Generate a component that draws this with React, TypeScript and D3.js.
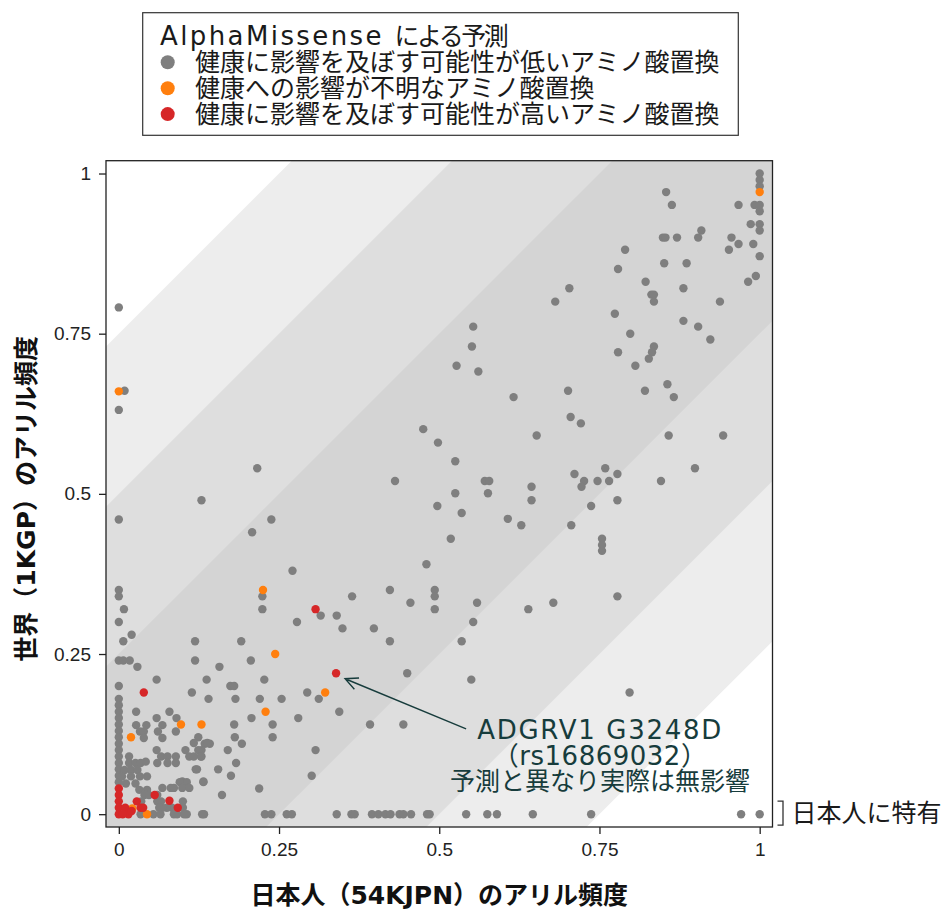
import React, { useEffect, useRef } from "react";
import * as d3 from "d3";

type Pt = [number, number];

// [日本人(54KJPN) frequency, 世界(1KGP) frequency]
const benignHigh: Pt[] = [
  [1, 1], [1, 0.99], [1, 0.98], [0.854, 0.971], [0.863, 0.951], [0.967, 0.951], [0.992, 0.951], [1, 0.951],
  [1, 0.941], [0.986, 0.921], [1, 0.921], [1, 0.911], [0.909, 0.911], [0.904, 0.9], [0.849, 0.9], [0.853, 0.9],
  [0.871, 0.9], [0.956, 0.9], [0.967, 0.89], [0.99, 0.89], [0.952, 0.881], [0.79, 0.881], [1, 0.871],
  [0.851, 0.86], [0.886, 0.86], [0.779, 0.851], [0.994, 0.84], [0.982, 0.831], [0.703, 0.821], [0.822, 0.831],
  [0.881, 0.821], [0.681, 0.8], [0.831, 0.811], [0.835, 0.811], [0.835, 0.8], [0.938, 0.8], [0.774, 0.781],
  [0.553, 0.761], [0.881, 0.77], [0.904, 0.761], [0.798, 0.75], [0.923, 0.741], [0.551, 0.73], [0.835, 0.73],
  [0.832, 0.721], [0.827, 0.711], [0.779, 0.721], [0.527, 0.7], [0.561, 0.691], [0.806, 0.7], [0.616, 0.651],
  [0.701, 0.661], [0.821, 0.661], [0.856, 0.671], [0.866, 0.651], [0.705, 0.62], [0.721, 0.61], [0.498, 0.58],
  [0.652, 0.591], [0.858, 0.591], [0.943, 0.591], [0.525, 0.551], [0.759, 0.54], [0.899, 0.54], [0.711, 0.531],
  [0.726, 0.52], [0.722, 0.511], [0.747, 0.52], [0.765, 0.52], [0.778, 0.531], [0.846, 0.52], [0.571, 0.52],
  [0.578, 0.52], [0.525, 0.501], [0.576, 0.501], [0.644, 0.511], [0.644, 0.49], [0.497, 0.481], [0.535, 0.47],
  [0.737, 0.481], [0.778, 0.49], [0.607, 0.461], [0.628, 0.451], [0.706, 0.451], [0.518, 0.43], [0.754, 0.43],
  [0.754, 0.42], [0.754, 0.411], [0.48, 0.39], [0.493, 0.35], [0.493, 0.34], [0.493, 0.32], [0.559, 0.33],
  [0.553, 0.3], [0.639, 0.32], [0.678, 0.33], [0.778, 0.34], [0.535, 0.27], [0.55, 0.21], [0.797, 0.19],
  [0.475, 0.601],
];

const benignMid: Pt[] = [
  [0.431, 0.52], [0.129, 0.49], [0.238, 0.46], [0.208, 0.44], [0.271, 0.38], [0.224, 0.34], [0.224, 0.32],
  [0.423, 0.35], [0.364, 0.34], [0.455, 0.33], [0.315, 0.31], [0.34, 0.31], [0.278, 0.3], [0.349, 0.29],
  [0.398, 0.29], [0.423, 0.27], [0.45, 0.22], [0.294, 0.19], [0.312, 0.18], [0.344, 0.16], [0.28, 0.15],
  [0.392, 0.14], [0.444, 0.14], [0.307, 0.1], [0.301, 0.06], [0.219, 0.04], [0.216, 0.54],
  [0.119, 0.27], [0.191, 0.27], [0.119, 0.24], [0.206, 0.24], [0.157, 0.23], [0.137, 0.21], [0.227, 0.21],
  [0.114, 0.19], [0.174, 0.2], [0.18, 0.2], [0.182, 0.18], [0.14, 0.18], [0.22, 0.18], [0.254, 0.18],
  [0.207, 0.15], [0.18, 0.14], [0.24, 0.14], [0.181, 0.12], [0.192, 0.11], [0.24, 0.12], [0.17, 0.1],
  [0.183, 0.08], [0.155, 0.07], [0.175, 0.06], [0.132, 0.05], [0.161, 0.03], [0.122, 0.07], [0.134, 0.11],
  [0.142, 0.11], [0.124, 0.12], [0.129, 0.1], [0.129, 0.09],
];

// only seen in Japanese (1KGP = 0)
const benignZero: Pt[] = [
  [0.091, 0], [0.106, 0], [0.133, 0], [0.228, 0], [0.238, 0], [0.262, 0], [0.27, 0], [0.34, 0], [0.363, 0],
  [0.368, 0], [0.395, 0], [0.405, 0], [0.416, 0], [0.424, 0], [0.438, 0], [0.444, 0], [0.456, 0], [0.481, 0],
  [0.485, 0], [0.542, 0], [0.575, 0], [0.59, 0], [0.646, 0], [0.737, 0], [0.971, 0], [1, 0],
];

const benignLow: Pt[] = [
  [0, 0.791], [0.009, 0.661], [0, 0.631], [0, 0.46], [0, 0.35], [0, 0.34], [0.008, 0.32], [0, 0.3],
  [0.02, 0.28], [0.007, 0.27], [0, 0.24], [0.007, 0.24], [0.017, 0.24], [0.029, 0.23], [0, 0.2], [0.059, 0.21],
  [0, 0.18], [0, 0.17], [0, 0.16], [0, 0.15], [0, 0.14], [0, 0.13], [0, 0.12], [0, 0.11], [0, 0.1], [0, 0.09],
  [0, 0.08], [0, 0.07], [0, 0.06], [0, 0.05],
  [0.027, 0.16], [0.079, 0.16], [0.059, 0.15], [0.068, 0.139], [0.061, 0.129], [0.068, 0.119], [0.09, 0.15],
  [0.027, 0.139], [0.043, 0.139], [0.033, 0.129], [0.039, 0.129], [0.039, 0.119], [0.089, 0.129], [0.104, 0.1],
  [0.117, 0.111], [0.124, 0.1], [0.128, 0.09], [0.11, 0.09], [0.117, 0.09], [0.138, 0.111], [0.059, 0.1],
  [0.066, 0.09], [0.076, 0.09], [0.089, 0.09], [0.089, 0.08], [0.016, 0.09], [0.016, 0.08], [0.026, 0.08],
  [0.034, 0.08], [0.042, 0.082], [0.009, 0.069], [0.019, 0.069], [0.029, 0.069], [0.12, 0.07], [0.06, 0.08],
  [0.076, 0.08], [0.044, 0.059], [0.033, 0.059], [0.005, 0.059], [0.019, 0.059], [0.132, 0.051], [0.099, 0.051],
  [0.106, 0.05], [0.095, 0.05], [0.011, 0.048], [0.026, 0.048], [0.032, 0.038], [0.044, 0.038], [0.068, 0.041],
  [0.081, 0.041], [0.086, 0.041], [0.099, 0.041], [0.11, 0.041], [0.035, 0.02], [0.04, 0.03], [0.047, 0.03],
  [0.06, 0.03], [0.06, 0.02], [0.066, 0.02], [0.1, 0.02], [0.1, 0.01], [0.083, 0.01], [0.075, 0.01],
  [0.068, 0.01], [0.063, 0.01], [0.034, 0], [0.054, 0], [0.065, 0], [0.086, 0], [0.102, 0], [0.13, 0],
];

const ambiguous: Pt[] = [
  [0, 0.66], [1, 0.971], [0.225, 0.35], [0.244, 0.25], [0.322, 0.19], [0.229, 0.16], [0.097, 0.14],
  [0.129, 0.14], [0.019, 0.12], [0.021, 0.009], [0.044, 0],
];

const pathogenic: Pt[] = [
  [0.307, 0.32], [0.339, 0.22], [0.039, 0.19], [0.056, 0.03], [0.028, 0.02], [0.079, 0.021], [0.092, 0.01],
  [0.034, 0.01], [0.038, 0.01], [0, 0.04], [0, 0.03], [0, 0.02], [0, 0.01], [0, 0], [0.01, 0.01], [0.015, 0],
  [0.006, 0], [0.02, 0.005],
];

const legendTitleLatin = "AlphaMissense";
const legendTitleJa = "による予測";
const legendLabels = [
  "健康に影響を及ぼす可能性が低いアミノ酸置換",
  "健康への影響が不明なアミノ酸置換",
  "健康に影響を及ぼす可能性が高いアミノ酸置換",
];
const legendColors = ["#7f7f7f", "#ff7f0e", "#d62728"];

const tickValues = [0, 0.25, 0.5, 0.75, 1];
const bandEdges = [0.75, 0.5, 0.25];
const bandColors = ["#ededed", "#dedede", "#d4d4d4"];

const highlight: Pt = [0.339, 0.22];
const noteLines = ["ADGRV1 G3248D", "（rs16869032）", "予測と異なり実際は無影響"];

const FONT = "'DejaVu Sans', 'Noto Sans CJK JP', sans-serif";

const App = () => {
  const ref = useRef<SVGSVGElement>(null);

  useEffect(() => {
    const W = 943;
    const H = 909;
    const box = { left: 106, top: 160.7, right: 772.5, bottom: 827 };

    const svg = d3.select(ref.current);
    svg.selectAll("*").remove();
    svg.attr("width", W).attr("height", H);

    const x = d3.scaleLinear().domain([-0.02, 1.02]).range([box.left, box.right]);
    const y = d3.scaleLinear().domain([-0.02, 1.02]).range([box.bottom, box.top]);

    svg
      .append("clipPath")
      .attr("id", "plotclip")
      .append("rect")
      .attr("x", box.left)
      .attr("y", box.top)
      .attr("width", box.right - box.left)
      .attr("height", box.bottom - box.top);

    const plot = svg.append("g").attr("clip-path", "url(#plotclip)");
    plot
      .append("rect")
      .attr("x", box.left)
      .attr("y", box.top)
      .attr("width", box.right - box.left)
      .attr("height", box.bottom - box.top)
      .attr("fill", "#fff");

    // diagonal bands |world - japan| < edge
    bandEdges.forEach((e, i) => {
      const poly: Pt[] = [[-1, -1 - e], [2, 2 - e], [2, 2 + e], [-1, -1 + e]];
      plot
        .append("path")
        .attr("d", "M" + poly.map((p) => `${x(p[0])},${y(p[1])}`).join("L") + "Z")
        .attr("fill", bandColors[i]);
    });

    const groups: [Pt[], string][] = [
      [[...benignHigh, ...benignMid, ...benignZero, ...benignLow], legendColors[0]],
      [ambiguous, legendColors[1]],
      [pathogenic, legendColors[2]],
    ];
    groups.forEach(([pts, col]) => {
      plot
        .append("g")
        .selectAll("circle")
        .data(pts)
        .join("circle")
        .attr("cx", (d) => x(d[0]))
        .attr("cy", (d) => y(d[1]))
        .attr("r", 4.2)
        .attr("fill", col);
    });

    // frame
    svg
      .append("rect")
      .attr("x", box.left)
      .attr("y", box.top)
      .attr("width", box.right - box.left)
      .attr("height", box.bottom - box.top)
      .attr("fill", "none")
      .attr("stroke", "#222")
      .attr("stroke-width", 1.3);

    // axes
    const fmt = d3.format("~g");
    const xAxis = svg
      .append("g")
      .attr("transform", `translate(0,${box.bottom})`)
      .call(d3.axisBottom(x).tickValues(tickValues).tickFormat(fmt).tickSize(7).tickSizeOuter(0).tickPadding(9));
    const yAxis = svg
      .append("g")
      .attr("transform", `translate(${box.left},0)`)
      .call(d3.axisLeft(y).tickValues(tickValues).tickFormat(fmt).tickSize(7).tickSizeOuter(0).tickPadding(8));
    [xAxis, yAxis].forEach((a) => {
      a.select(".domain").remove();
      a.selectAll("line").attr("stroke", "#222").attr("stroke-width", 1.3);
      a.selectAll("text")
        .attr("fill", "#222")
        .style("font-family", "'Liberation Sans', Arial, sans-serif")
        .style("font-size", "19px");
    });

    // axis titles
    svg
      .append("text")
      .attr("x", (box.left + box.right) / 2)
      .attr("y", 895)
      .attr("text-anchor", "middle")
      .attr("dominant-baseline", "central")
      .style("font-family", FONT)
      .style("font-size", "25px")
      .style("font-weight", "bold")
      .attr("fill", "#111")
      .text("日本人（54KJPN）のアリル頻度");

    svg
      .append("text")
      .attr("transform", `translate(26,${(box.top + box.bottom) / 2 + 5}) rotate(-90)`)
      .attr("text-anchor", "middle")
      .attr("dominant-baseline", "central")
      .style("font-family", FONT)
      .style("font-size", "25px")
      .style("font-weight", "bold")
      .attr("fill", "#111")
      .text("世界（1KGP）のアリル頻度");

    // legend
    const lg = svg.append("g");
    lg.append("rect")
      .attr("x", 142.7)
      .attr("y", 12.7)
      .attr("width", 595.6)
      .attr("height", 122.6)
      .attr("fill", "#fff")
      .attr("stroke", "#333")
      .attr("stroke-width", 1.2);
    const title = lg
      .append("text")
      .attr("x", 160)
      .attr("y", 45)
      .style("font-family", FONT)
      .attr("fill", "#1a1a1a");
    title.append("tspan").style("font-size", "26px").style("letter-spacing", "2.4px").text(legendTitleLatin + " ");
    title.append("tspan").style("font-size", "25px").style("letter-spacing", "-2.5px").text(legendTitleJa);
    legendLabels.forEach((lab, i) => {
      const cy = 62.3 + i * 25.9;
      lg.append("circle").attr("cx", 167.7).attr("cy", cy).attr("r", 7).attr("fill", legendColors[i]);
      lg.append("text")
        .attr("x", 195)
        .attr("y", cy)
        .attr("dominant-baseline", "central")
        .style("font-family", FONT)
        .style("font-size", "25px")
        .attr("fill", "#1a1a1a")
        .text(lab);
    });

    // annotation
    const ink = "#173c3c";
    const noteX = x(0.751);
    const tip: Pt = [x(highlight[0]) + 9, y(highlight[1]) + 5.5];
    const start: Pt = [noteX - 134, y(0.133)];
    const dx = tip[0] - start[0];
    const dy = tip[1] - start[1];
    const len = Math.hypot(dx, dy);
    const ux = dx / len;
    const uy = dy / len;
    const arm = (a: number): Pt => {
      const c = Math.cos(a);
      const s = Math.sin(a);
      return [tip[0] - 14 * (ux * c - uy * s), tip[1] - 14 * (ux * s + uy * c)];
    };
    const a1 = arm(0.45);
    const a2 = arm(-0.45);
    svg
      .append("path")
      .attr("d", `M${start[0]},${start[1]}L${tip[0]},${tip[1]}M${a1[0]},${a1[1]}L${tip[0]},${tip[1]}L${a2[0]},${a2[1]}`)
      .attr("fill", "none")
      .attr("stroke", ink)
      .attr("stroke-width", 1.4);

    const noteY = [739, 765, 790];
    const noteSize = [26, 26, 25];
    const noteSpacing = [1.7, 0.5, 0];
    noteLines.forEach((t, i) => {
      svg
        .append("text")
        .attr("x", noteX)
        .attr("y", noteY[i])
        .attr("text-anchor", "middle")
        .style("font-family", FONT)
        .style("font-size", `${noteSize[i]}px`)
        .style("letter-spacing", `${noteSpacing[i]}px`)
        .attr("fill", ink)
        .text(t);
    });

    // Japan-only bracket
    const y0 = y(0);
    svg
      .append("path")
      .attr("d", `M${box.right + 5},${y0 - 13}H${box.right + 10.5}V${y0 + 11}H${box.right + 5}`)
      .attr("fill", "none")
      .attr("stroke", "#333")
      .attr("stroke-width", 1.3);
    svg
      .append("text")
      .attr("x", box.right + 19)
      .attr("y", y0 - 1)
      .attr("dominant-baseline", "central")
      .style("font-family", FONT)
      .style("font-size", "25px")
      .attr("fill", "#1a1a1a")
      .text("日本人に特有");
  }, []);

  return <svg ref={ref} style={{ position: "absolute", left: 0, top: 0 }} />;
};

export default App;
